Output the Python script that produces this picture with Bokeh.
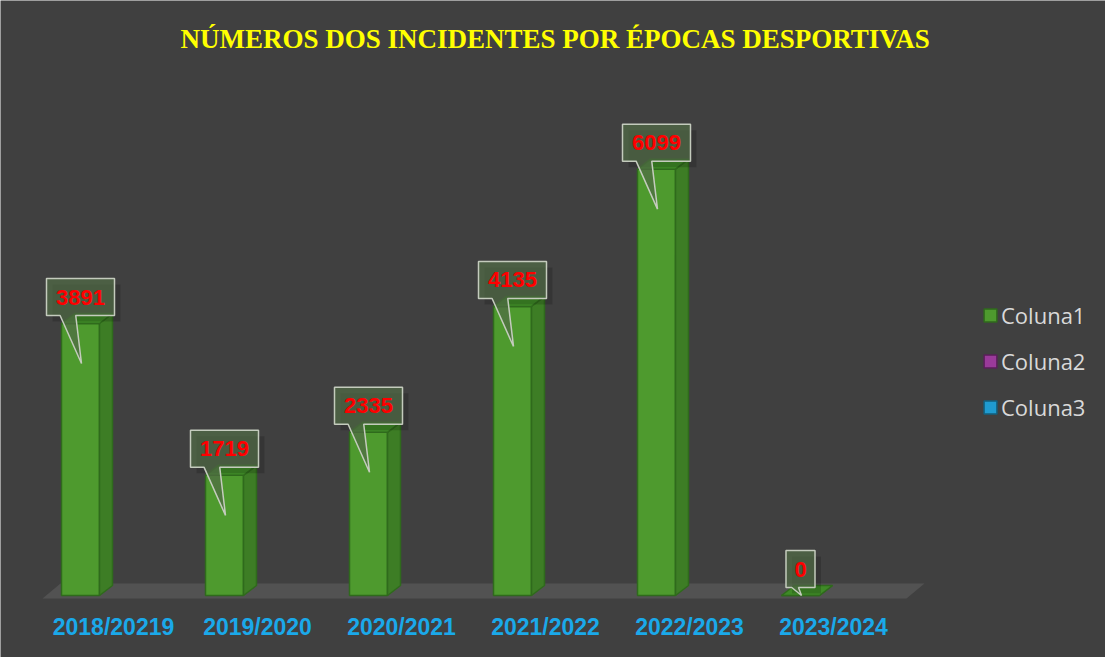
from bokeh.plotting import figure
from bokeh.models import Range1d, Label, Legend, LegendItem
from bokeh.core.properties import value
from bokeh.embed import file_html
from bokeh.resources import INLINE

# ---- data ----
seasons = ["2018/20219", "2019/2020", "2020/2021", "2021/2022", "2022/2023", "2023/2024"]
incidents = [3891, 1719, 2335, 4135, 6099, 0]
series_names = ["Coluna1", "Coluna2", "Coluna3"]
series_colors = ["#4e9a2e", "#9a3a9a", "#1f9bd0"]
series_edges = ["#2f6a1c", "#5a1f5a", "#12607f"]
title_text = "NÚMEROS DOS  INCIDENTES POR ÉPOCAS DESPORTIVAS"

# ---- geometry / style constants ----
W, H = 1105, 657
X0 = -80 / 144.0
X1 = X0 + W / 144.0
PXY = 14.306                 # data y per px
Y0 = -(H - 595) * PXY
Y1 = 595 * PXY
PXX = (X1 - X0) / W          # data x per px

BG = "#404040"
p = figure(width=W, height=H, output_backend="svg", toolbar_location=None,
           x_range=Range1d(X0, X1), y_range=Range1d(Y0, Y1),
           x_axis_location=None, y_axis_location=None,
           min_border=0, background_fill_color=BG, border_fill_color=BG,
           outline_line_color=None)
p.grid.visible = False

n = len(seasons)
xs = list(range(n))

# ---- floor ----
half = 19 * PXX
dx = 13 * PXX
dy = 10 * PXY
fl = 0 - 38 * PXX
fr = fl + n
fb = -3 * PXY
ft = 12 * PXY
fsk = 18 * PXX
p.patch([fl, fr, fr + fsk, fl + fsk], [fb, fb, ft, ft],
        fill_color="#525252", line_color=None)

# ---- bars (3D look) ----
lefts = [x - half for x in xs]
rights = [x + half for x in xs]
side_x = [[r, r + dx, r + dx, r] for r in rights]
side_y = [[0, dy, v + dy, v] for v in incidents]
top_x = [[l, r, r + dx, l + dx] for l, r in zip(lefts, rights)]
top_y = [[v, v, v + dy, v + dy] for v in incidents]

front = p.quad(left=lefts, right=rights, bottom=[0] * n, top=incidents,
               fill_color=series_colors[0], line_color=series_edges[0], line_width=1.5)
p.patches(side_x, side_y, fill_color="#3d7d25", line_color=series_edges[0], line_width=1.5)
p.patches(top_x, top_y, fill_color="#3f8a27", line_color=series_edges[0], line_width=1.5)

# ---- season labels (shifted right as in the 3D perspective) ----
p.text(x=[x + 33 * PXX for x in xs], y=[-31 * PXY] * n, text=seasons,
       text_align="center", text_baseline="middle",
       text_color="#1aa9ea", text_font=value("Liberation Sans"),
       text_font_style="bold", text_font_size="23px")

# ---- callouts ----
labels = [str(v) for v in incidents]
cx_list, cy_list, sh_x, sh_y, bx_list, by_list = [], [], [], [], [], []
for x, v, t in zip(xs, incidents, labels):
    w = (16 + 13 * len(t)) * PXX
    h = 37 * PXY
    tip_px = min(40, v / PXY)
    b = v + 8 * PXY
    tp = b + h
    L, R = x - w / 2, x + w / 2
    bl, br = x - 0.3 * w, x - 0.07 * w
    tipx, tipy = x + 1 * PXX, v - tip_px * PXY
    bx_list.append([L, R, R, br, tipx, bl, L])
    by_list.append([tp, tp, b, b, tipy, b, b])
    sh_x.append([q + 6 * PXX for q in [L, R, R, L]])
    sh_y.append([q - 6 * PXY for q in [tp, tp, b, b]])
    cx_list.append(x)
    cy_list.append((b + tp) / 2)

p.patches(sh_x, sh_y, fill_color="black", fill_alpha=0.16, line_color=None)
p.patches(bx_list, by_list, fill_color="#506b45", fill_alpha=0.72,
          line_color="#c4cbbd", line_width=1.5)
p.text(x=cx_list, y=cy_list, text=labels, text_align="center", text_baseline="middle",
       text_color="#ff0000", text_font=value("Liberation Sans"),
       text_font_style="bold", text_font_size="22px")

# ---- legend (Coluna2/3 hold no values; drawn off-range) ----
r2 = p.quad(left=[X0 - 5], right=[X0 - 4], bottom=[0], top=[1], fill_color=series_colors[1],
            line_color=series_edges[1], line_width=1.5)
r3 = p.quad(left=[X0 - 5], right=[X0 - 4], bottom=[0], top=[1], fill_color=series_colors[2],
            line_color=series_edges[2], line_width=1.5)
legend = Legend(items=[LegendItem(label=series_names[0], renderers=[front]),
                       LegendItem(label=series_names[1], renderers=[r2]),
                       LegendItem(label=series_names[2], renderers=[r3])],
                location=(982, 235), orientation="vertical",
                glyph_width=16, glyph_height=16, label_height=22, spacing=16,
                padding=0, margin=0, label_standoff=3,
                label_text_font="Open Sans", label_text_font_size="22px",
                label_text_color="#d9d9d9", background_fill_alpha=0,
                border_line_color=None)
p.add_layout(legend, "center")

# ---- title ----
p.add_layout(Label(x=558, y=H - 38, x_units="screen", y_units="screen",
                   text=title_text, text_align="center", text_baseline="middle",
                   text_color="#ffff00", text_font="Liberation Serif",
                   text_font_style="bold", text_font_size="27px"))

open("out.html", "w").write(file_html(p, INLINE))
